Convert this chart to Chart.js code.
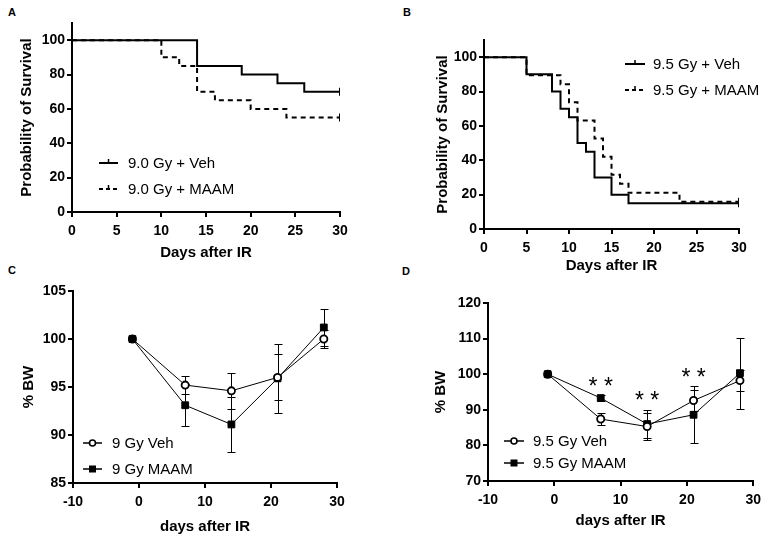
<!DOCTYPE html>
<html><head><meta charset="utf-8">
<script src="https://cdn.jsdelivr.net/npm/chart.js@4/dist/chart.umd.min.js"></script>
<style>
html,body{margin:0;padding:0;background:#fff;}
body{width:767px;height:540px;position:relative;overflow:hidden;font-family:"Liberation Sans",Arial,sans-serif;}
canvas{position:absolute;}
.lbl{position:absolute;font-weight:bold;font-size:11px;line-height:11px;color:#000;}
</style></head><body>
<div class="lbl" style="left:8px;top:7px">A</div>
<div class="lbl" style="left:403px;top:7px">B</div>
<div class="lbl" style="left:8px;top:265px">C</div>
<div class="lbl" style="left:402px;top:266px">D</div>
<canvas id="cC" width="380" height="270" style="left:0;top:270px"></canvas>
<canvas id="cD" width="387" height="270" style="left:380px;top:270px"></canvas>
<canvas id="cA" width="380" height="270" style="left:0;top:0"></canvas>
<canvas id="cB" width="387" height="280" style="left:380px;top:0"></canvas>
<script>
const FONT = '"Liberation Sans", Arial, sans-serif';

// ---------- Data ----------
// Panel A: Kaplan-Meier, 9.0 Gy
const aVehName = '9.0 Gy + Veh';
const aMaamName = '9.0 Gy + MAAM';
const aVehDays = [0, 14, 19, 23, 26, 30];
const aVehSurv = [100, 85, 80, 75, 70, 70];
const aMaamDays = [0, 10, 12, 14, 16, 20, 24, 30];
const aMaamSurv = [100, 90, 85, 70, 65, 60, 55, 55];

// Panel B: Kaplan-Meier, 9.5 Gy
const bVehName = '9.5 Gy + Veh';
const bMaamName = '9.5 Gy + MAAM';
const bVehDays = [0, 5, 8, 9, 10, 11, 12, 13, 15, 17, 30];
const bVehSurv = [100, 90, 80, 70, 65, 50, 45, 30, 20, 15, 15];
const bMaamDays = [0, 5, 9, 10, 11, 13, 14, 15, 16, 17, 23, 30];
const bMaamSurv = [100, 89.5, 84.2, 73.7, 63.2, 52.6, 42.1, 31.6, 26.3, 21.1, 15.8, 15.8];

// Panels C, D: body weight
const bwDays = [-1, 7, 14, 21, 28];
const cVehName = '9 Gy Veh';
const cMaamName = '9 Gy MAAM';
const cVeh = [100, 95.2, 94.6, 96.0, 100.0];
const cVehErr = [0, 0.9, 1.9, 2.4, 0.9];
const cMaam = [100, 93.1, 91.1, 95.9, 101.2];
const cMaamErr = [0, 2.2, 2.9, 3.6, 1.9];

const dVehName = '9.5 Gy Veh';
const dMaamName = '9.5 Gy MAAM';
const dVeh = [100, 87.4, 85.3, 92.6, 98.2];
const dVehErr = [0, 1.7, 3.8, 3.0, 2.9];
const dMaam = [100, 93.3, 86.0, 88.6, 100.3];
const dMaamErr = [0, 0.8, 4.0, 8.0, 10.0];
const dSigDays = [7, 14, 21];
const dSigText = '* *';

// Tick labels
const survTicksX = [0, 5, 10, 15, 20, 25, 30];
const survTicksY = [0, 20, 40, 60, 80, 100];
const bwTicksX = [-10, 0, 10, 20, 30];
const cTicksY = [85, 90, 95, 100, 105];
const dTicksY = [70, 80, 90, 100, 110, 120];

// ---------- helpers ----------
function toXY(xs, ys) { return xs.map((x, i) => ({ x: x, y: ys[i] })); }

function xScale(min, max, ticks, H, title, pb) {
  return {
    type: 'linear', min: min, max: max,
    afterBuildTicks: s => { s.ticks = ticks.map(v => ({ value: v })); },
    afterFit: s => { s.height = H; },
    border: { display: true, color: '#000', width: 2 },
    grid: { display: true, drawOnChartArea: false, drawTicks: true, tickLength: 5, tickWidth: 2, tickColor: '#000', color: '#000', lineWidth: 2 },
    ticks: { color: '#000', font: { family: FONT, size: 14, weight: 'bold' }, padding: 6, maxRotation: 0, autoSkip: false },
    title: { display: true, text: title, color: '#000', font: { family: FONT, size: 15, weight: 'bold' }, padding: { top: 0, bottom: pb } }
  };
}
function yScale(min, max, ticks, W, title, pt) {
  return {
    type: 'linear', min: min, max: max,
    afterBuildTicks: s => { s.ticks = ticks.map(v => ({ value: v })); },
    afterFit: s => { s.width = W; },
    border: { display: true, color: '#000', width: 2 },
    grid: { display: true, drawOnChartArea: false, drawTicks: true, tickLength: 5, tickWidth: 2, tickColor: '#000', color: '#000', lineWidth: 2 },
    ticks: { color: '#000', font: { family: FONT, size: 14, weight: 'bold' }, padding: 2, autoSkip: false },
    title: { display: true, text: title, color: '#000', font: { family: FONT, size: 15, weight: 'bold' }, padding: { top: pt, bottom: 0 } }
  };
}

const inlineLegend = {
  id: 'inlineLegend',
  afterDraw(chart, args, opts) {
    const ctx = chart.ctx;
    ctx.save();
    (opts.items || []).forEach(it => {
      const mid = (it.x1 + it.x2) / 2;
      ctx.strokeStyle = '#000';
      ctx.lineWidth = it.lw;
      ctx.setLineDash(it.dash || []);
      ctx.beginPath(); ctx.moveTo(it.x1, it.y); ctx.lineTo(it.x2, it.y); ctx.stroke();
      ctx.setLineDash([]);
      if (it.marker === 'tick') {
        ctx.lineWidth = 1.5;
        ctx.beginPath(); ctx.moveTo(mid, it.y); ctx.lineTo(mid, it.y - 4); ctx.stroke();
      } else if (it.marker === 'circle') {
        ctx.fillStyle = '#fff'; ctx.lineWidth = 1.6;
        ctx.beginPath(); ctx.arc(mid, it.y, 3, 0, 2 * Math.PI); ctx.fill(); ctx.stroke();
      } else if (it.marker === 'square') {
        ctx.fillStyle = '#000'; ctx.fillRect(mid - 3.5, it.y - 3.5, 7, 7);
      }
      ctx.fillStyle = '#000';
      ctx.font = '15px ' + FONT;
      ctx.textBaseline = 'middle';
      ctx.textAlign = 'left';
      ctx.fillText(it.text, it.tx, it.y + 1);
    });
    ctx.restore();
  }
};

const errorBars = {
  id: 'errorBars',
  beforeDatasetsDraw(chart) {
    const xs = chart.scales.x, ys = chart.scales.y, ctx = chart.ctx;
    ctx.save(); ctx.strokeStyle = '#000'; ctx.lineWidth = 1;
    chart.data.datasets.forEach(ds => {
      if (!ds.errors) return;
      ds.data.forEach((p, i) => {
        const e = ds.errors[i]; if (!e) return;
        const px = Math.round(xs.getPixelForValue(p.x)) + 0.5;
        const top = Math.round(ys.getPixelForValue(p.y + e)) + 0.5;
        const bot = Math.round(ys.getPixelForValue(p.y - e)) + 0.5;
        ctx.beginPath();
        ctx.moveTo(px, top); ctx.lineTo(px, bot);
        ctx.moveTo(px - 4, top); ctx.lineTo(px + 4, top);
        ctx.moveTo(px - 4, bot); ctx.lineTo(px + 4, bot);
        ctx.stroke();
      });
    });
    ctx.restore();
  }
};

const sigStars = {
  id: 'sigStars',
  afterDatasetsDraw(chart, args, opts) {
    if (!opts.days) return;
    const xs = chart.scales.x, ys = chart.scales.y, ctx = chart.ctx;
    ctx.save();
    ctx.fillStyle = '#000';
    ctx.font = '23px ' + FONT;
    ctx.textAlign = 'center';
    ctx.textBaseline = 'alphabetic';
    opts.days.forEach(d => {
      let top = -Infinity;
      chart.data.datasets.forEach(ds => {
        const i = ds.data.findIndex(p => p.x === d);
        if (i >= 0) top = Math.max(top, ds.data[i].y + (ds.errors ? ds.errors[i] : 0));
      });
      const cy = ys.getPixelForValue(top + 4.2);
      ctx.fillText(opts.text, xs.getPixelForValue(d), cy + 13.3);
    });
    ctx.restore();
  }
};

Chart.register(inlineLegend, errorBars, sigStars);

function kmDataset(xs, ys, dash) {
  const n = xs.length;
  return {
    data: toXY(xs, ys), stepped: true, borderColor: '#000', borderWidth: 2, borderDash: dash, fill: false,
    pointStyle: 'line', pointRotation: 90,
    pointRadius: ctx => (ctx.dataIndex === n - 1 ? 4 : 0),
    pointBorderWidth: 2, pointBorderColor: '#000', pointHoverRadius: 0
  };
}
function bwDataset(ys, errs, kind) {
  const open = kind === 'circle';
  return {
    data: toXY(bwDays, ys), errors: errs, borderColor: '#000', borderWidth: 1, fill: false, tension: 0,
    pointStyle: open ? 'circle' : 'rect',
    pointRadius: open ? 3.6 : 4.8,
    pointBorderWidth: open ? 1.8 : 1,
    pointBorderColor: '#000',
    pointBackgroundColor: open ? bwDays.map((d, i) => (i === 0 ? '#000' : '#fff')) : '#000',
    pointHoverRadius: 0
  };
}
function baseOptions(pad, scales, legendItems, extra) {
  return {
    responsive: false, animation: false, events: [],
    layout: { padding: pad },
    scales: scales,
    plugins: { legend: { display: false }, tooltip: { enabled: false }, inlineLegend: { items: legendItems }, sigStars: extra || {} }
  };
}

// ---------- Panel A ----------
new Chart(document.getElementById('cA'), {
  type: 'line',
  data: { datasets: [kmDataset(aVehDays, aVehSurv, []), kmDataset(aMaamDays, aMaamSurv, [5, 4])] },
  options: baseOptions({ left: 0, top: 23, right: 40, bottom: 0 }, {
    x: xScale(0, 30, survTicksX, 58, 'Days after IR', 8),
    y: yScale(0, 110, survTicksY, 72, 'Probability of Survival', 18)
  }, [
    { x1: 99, x2: 118, y: 163, lw: 2, marker: 'tick', text: aVehName, tx: 128 },
    { x1: 99, x2: 118, y: 189, lw: 2, dash: [4, 3], marker: 'tick', text: aMaamName, tx: 128 }
  ])
});

// ---------- Panel B ----------
new Chart(document.getElementById('cB'), {
  type: 'line',
  data: { datasets: [kmDataset(bVehDays, bVehSurv, []), kmDataset(bMaamDays, bMaamSurv, [5, 4])] },
  options: baseOptions({ left: 0, top: 40, right: 28, bottom: 0 }, {
    x: xScale(0, 30, survTicksX, 51, 'Days after IR', 5),
    y: yScale(0, 110, survTicksY, 104, 'Probability of Survival', 54)
  }, [
    { x1: 245, x2: 265, y: 64, lw: 2, marker: 'tick', text: bVehName, tx: 273 },
    { x1: 245, x2: 265, y: 90, lw: 2, dash: [4, 3], marker: 'tick', text: bMaamName, tx: 273 }
  ])
});

// ---------- Panel C ----------
new Chart(document.getElementById('cC'), {
  type: 'line',
  data: { datasets: [bwDataset(cVeh, cVehErr, 'circle'), bwDataset(cMaam, cMaamErr, 'square')] },
  options: baseOptions({ left: 0, top: 21, right: 43, bottom: 0 }, {
    x: xScale(-10, 30, bwTicksX, 57, 'days after IR', 4),
    y: yScale(85, 105, cTicksY, 73, '% BW', 20)
  }, [
    { x1: 83, x2: 102, y: 173, lw: 1.5, marker: 'circle', text: cVehName, tx: 112 },
    { x1: 83, x2: 102, y: 199, lw: 1.5, marker: 'square', text: cMaamName, tx: 112 }
  ])
});

// ---------- Panel D ----------
new Chart(document.getElementById('cD'), {
  type: 'line',
  data: { datasets: [bwDataset(dVeh, dVehErr, 'circle'), bwDataset(dMaam, dMaamErr, 'square')] },
  options: baseOptions({ left: 0, top: 33, right: 11, bottom: 0 }, {
    x: xScale(-10, 30, bwTicksX, 59, 'days after IR', 10),
    y: yScale(70, 120, dTicksY, 108, '% BW', 52)
  }, [
    { x1: 124, x2: 144, y: 171, lw: 1.5, marker: 'circle', text: dVehName, tx: 153 },
    { x1: 124, x2: 144, y: 193, lw: 1.5, marker: 'square', text: dMaamName, tx: 153 }
  ], { days: dSigDays, text: dSigText })
});
</script>
</body></html>
